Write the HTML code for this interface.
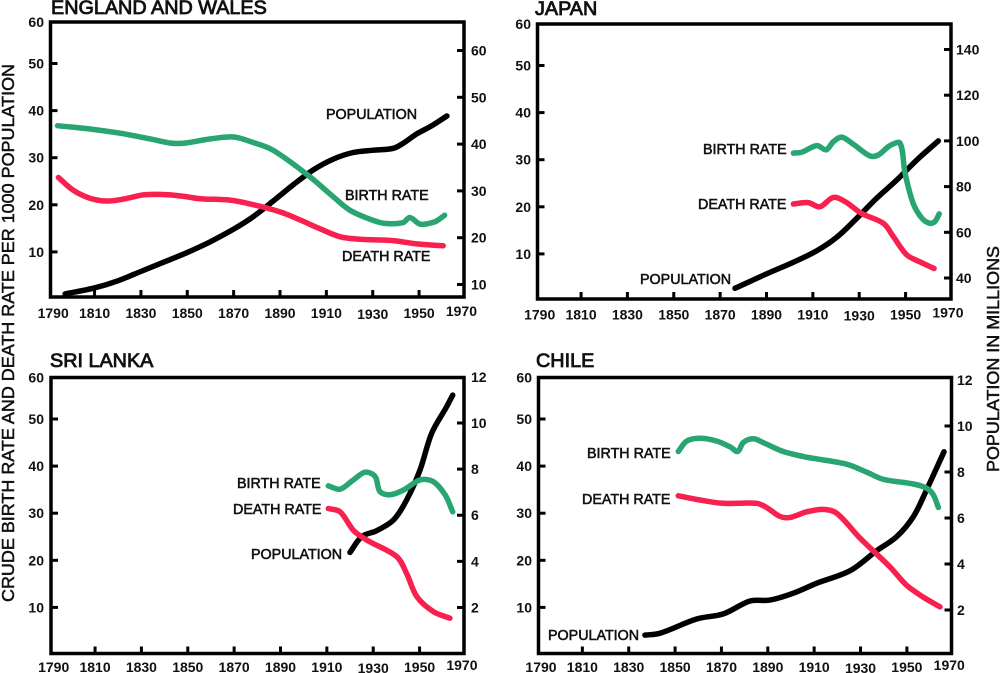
<!DOCTYPE html>
<html lang="en">
<head>
<meta charset="utf-8">
<title>Birth rate, death rate and population</title>
<style>
html,body{margin:0;padding:0;background:#fff;width:1000px;height:673px;overflow:hidden}
svg{display:block;font-family:"Liberation Sans",Arial,sans-serif}
.tick-label{font-size:14px;font-weight:bold;fill:#111}
.series-label{font-size:14.3px;fill:#111;stroke:#111;stroke-width:.55px}
.panel-title{font-size:19.8px;fill:#111;stroke:#111;stroke-width:.85px}
.axis-title{font-size:17.5px;fill:#111;stroke:#111;stroke-width:.5px}
</style>
</head>
<body>
<svg id="chart" xmlns="http://www.w3.org/2000/svg" width="1000" height="673" viewBox="0 0 1000 673">
<text class="axis-title" transform="translate(14,333) rotate(-90)" text-anchor="middle" textLength="538" lengthAdjust="spacingAndGlyphs">CRUDE BIRTH RATE AND DEATH RATE PER 1000 POPULATION</text>
<text class="axis-title" transform="translate(999,359) rotate(-90)" text-anchor="middle" textLength="226" lengthAdjust="spacingAndGlyphs">POPULATION IN MILLIONS</text>
</svg>
<script>
// ---- tick labels ----
const xTickYears = [1790, 1810, 1830, 1850, 1870, 1890, 1910, 1930, 1950, 1970];
const leftTickValues = [10, 20, 30, 40, 50, 60];
const englandRightTicks = [10, 20, 30, 40, 50, 60];
const japanRightTicks = [40, 60, 80, 100, 120, 140];
const sriLankaRightTicks = [2, 4, 6, 8, 10, 12];
const chileRightTicks = [2, 4, 6, 8, 10, 12];

// ---- England and Wales ----
const englandBirthYears = [1794, 1808, 1821, 1834, 1843, 1849, 1860, 1870, 1878, 1887, 1902, 1913, 1920, 1927.5, 1934.5, 1943, 1946, 1950.4, 1954.7, 1957.7, 1961];
const englandBirthValues = [36.8, 36.1, 35.2, 34.0, 33.1, 33.1, 34.0, 34.4, 33.3, 31.6, 26.3, 21.7, 18.9, 17.2, 16.1, 16.2, 17.3, 15.9, 16.1, 16.6, 17.8];
const englandDeathYears = [1794.4, 1800.8, 1808, 1815.2, 1822.4, 1831, 1838.3, 1846.9, 1855.5, 1868.4, 1877, 1890, 1898.6, 1907.3, 1916, 1924.5, 1938.8, 1949, 1960.4];
const englandDeathValues = [25.8, 23.1, 21.4, 20.8, 21.2, 22.1, 22.2, 21.9, 21.3, 21.0, 20.2, 18.5, 16.8, 14.9, 13.2, 12.7, 12.4, 11.7, 11.3];
const englandPopYears = [1797.3, 1809.5, 1819.6, 1831, 1841, 1849.8, 1859.8, 1869.9, 1878.5, 1887, 1895.7, 1904.4, 1913, 1921.6, 1930.3, 1938.9, 1943.2, 1949, 1954.7, 1962];
const englandPopValues = [8.0, 9.2, 10.7, 13, 15, 16.8, 19.1, 21.8, 24.5, 27.8, 31.3, 34.5, 36.8, 38.2, 38.7, 39.1, 40.2, 42.2, 43.7, 46];

// ---- Japan ----
const japanBirthYears = [1901.6, 1905.2, 1911.7, 1915.7, 1918.8, 1922.4, 1927.4, 1934.6, 1938.2, 1943.3, 1947.6, 1949.8, 1953.3, 1957, 1960.5, 1962.7, 1964.5];
const japanBirthValues = [31.4, 31.6, 33.0, 32.1, 33.8, 34.8, 33.3, 30.8, 31, 33, 33.5, 27.1, 20.7, 17.6, 16.5, 16.9, 18.5];
const japanDeathYears = [1901.6, 1908, 1913, 1918.8, 1923.9, 1931, 1940.4, 1944.7, 1950.5, 1956.2, 1962.3];
const japanDeathValues = [20.6, 20.9, 20, 22, 21.1, 18.6, 16.5, 13.7, 9.8, 8.3, 6.9];
const japanPopYears = [1876.4, 1890, 1901.6, 1911.7, 1920.3, 1928.9, 1937.5, 1946.2, 1954.8, 1964.1];
const japanPopValues = [35.5, 41.8, 46.9, 51.9, 57.8, 66.1, 74.9, 82.9, 91.6, 100];

// ---- Sri Lanka ----
const sriLankaBirthYears = [1910.6, 1915.7, 1921.4, 1926.5, 1930.8, 1932.9, 1937.2, 1943, 1950.2, 1955.9, 1961, 1964.3];
const sriLankaBirthValues = [35.8, 35.1, 37.05, 38.7, 37.8, 34.6, 33.9, 34.9, 37.05, 36.7, 33.9, 30.3];
const sriLankaDeathYears = [1910.6, 1915.7, 1921.4, 1927.2, 1940.1, 1944.4, 1948.8, 1955.9, 1963.1];
const sriLankaDeathValues = [31, 30.3, 26.4, 24.3, 20.8, 17.2, 12.3, 9.1, 7.7];
const sriLankaPopYears = [1920, 1925, 1931.5, 1938.7, 1944.4, 1950.2, 1955.2, 1961.7, 1964.3];
const sriLankaPopValues = [4.39, 5.07, 5.33, 5.79, 6.66, 7.96, 9.55, 10.71, 11.21];

// ---- Chile ----
const chileBirthYears = [1851.4, 1855, 1860.8, 1868, 1873.7, 1877, 1879.4, 1883.7, 1888, 1896.7, 1906.8, 1924, 1932.7, 1939.8, 1952.8, 1958.5, 1961.4, 1963.6];
const chileBirthValues = [43.1, 45.3, 45.9, 45.3, 44.1, 43.1, 45, 45.8, 45, 43.1, 41.9, 40.4, 38.7, 37.2, 36.2, 35.3, 33.9, 31.2];
const chileDeathYears = [1851.4, 1860.8, 1870.8, 1885.2, 1889.5, 1895.3, 1899.6, 1906.8, 1914, 1919.7, 1929.8, 1942.7, 1949.9, 1957, 1964.3];
const chileDeathValues = [33.7, 32.8, 32.1, 32.1, 31.2, 29.3, 29.1, 30.3, 30.8, 30, 24.7, 18.6, 14.7, 12.2, 10.1];
const chilePopYears = [1837, 1843.5, 1859.3, 1870.8, 1882.3, 1890.9, 1901, 1911, 1925.5, 1937, 1945.6, 1952.8, 1958.5, 1966];
const chilePopValues = [0.91, 0.99, 1.61, 1.83, 2.39, 2.43, 2.73, 3.16, 3.71, 4.58, 5.19, 6.06, 7.22, 8.88];

const panels = [
  {key: 'england', title: 'ENGLAND AND WALES', titleX: 51, titleY: 14,
   frame: [50.5, 22, 464, 297], x0: 48.2, lY0: 299, rY0: 331.3, rK: 4.68, rightTicks: englandRightTicks,
   leftEnd: 44, rightStart: 471, xLabelDrop: 21,
   birth: [englandBirthYears, englandBirthValues], death: [englandDeathYears, englandDeathValues], pop: [englandPopYears, englandPopValues],
   birthLabel: [345, 200], deathLabel: [342, 261], popLabel: [326, 119]},
  {key: 'japan', title: 'JAPAN', titleX: 535, titleY: 15,
   frame: [537.5, 24, 951, 299], x0: 534.7, lY0: 301, rY0: 369.4, rK: 2.285, rightTicks: japanRightTicks,
   leftEnd: 531, rightStart: 956, xLabelDrop: 20.5,
   birth: [japanBirthYears, japanBirthValues], death: [japanDeathYears, japanDeathValues], pop: [japanPopYears, japanPopValues],
   birthLabel: [703, 154], deathLabel: [698, 209], popLabel: [640, 284]},
  {key: 'sri-lanka', title: 'SRI LANKA', titleX: 50, titleY: 367,
   frame: [51, 377.5, 464, 653.5], x0: 48.7, lY0: 654.5, rY0: 653.6, rK: 23.06, rightTicks: sriLankaRightTicks,
   leftEnd: 44, rightStart: 471, xLabelDrop: 18.5,
   birth: [sriLankaBirthYears, sriLankaBirthValues], death: [sriLankaDeathYears, sriLankaDeathValues], pop: [sriLankaPopYears, sriLankaPopValues],
   birthLabel: [237, 488], deathLabel: [233, 514], popLabel: [251, 559]},
  {key: 'chile', title: 'CHILE', titleX: 536, titleY: 367,
   frame: [538.5, 377.5, 951.5, 653.5], x0: 536, lY0: 654.5, rY0: 656, rK: 23, rightTicks: chileRightTicks,
   leftEnd: 532, rightStart: 957, xLabelDrop: 18.5,
   birth: [chileBirthYears, chileBirthValues], death: [chileDeathYears, chileDeathValues], pop: [chilePopYears, chilePopValues],
   birthLabel: [587, 458], deathLabel: [582, 504], popLabel: [548, 640]}
];

const X_K = 2.318, L_K = 4.71;
const svg = document.getElementById('chart');
const NS = 'http://www.w3.org/2000/svg';

function make(tag, parent) {
  const node = document.createElementNS(NS, tag);
  parent.appendChild(node);
  return node;
}
function dist(a, b) { return Math.hypot(a[0] - b[0], a[1] - b[1]); }
function smoothPath(pts) {
  let d = 'M' + pts[0][0].toFixed(1) + ' ' + pts[0][1].toFixed(1);
  for (let i = 0; i < pts.length - 1; i++) {
    const p0 = pts[Math.max(0, i - 1)], p1 = pts[i], p2 = pts[i + 1], p3 = pts[Math.min(pts.length - 1, i + 2)];
    const d01 = dist(p0, p1), d12 = dist(p1, p2), d23 = dist(p2, p3);
    const a = d12 / (d01 + d12) / 3, b = d12 / (d12 + d23) / 3;
    const c1 = [p1[0] + (p2[0] - p0[0]) * a, p1[1] + (p2[1] - p0[1]) * a];
    const c2 = [p2[0] - (p3[0] - p1[0]) * b, p2[1] - (p3[1] - p1[1]) * b];
    d += 'C' + c1[0].toFixed(1) + ' ' + c1[1].toFixed(1) + ' ' + c2[0].toFixed(1) + ' ' + c2[1].toFixed(1) + ' ' + p2[0].toFixed(1) + ' ' + p2[1].toFixed(1);
  }
  return d;
}

panels.forEach(function (p) {
  const xScale = function (year) { return p.x0 + X_K * (year - 1790); };
  const leftScale = function (v) { return p.lY0 - L_K * v; };
  const rightScale = function (v) { return p.rY0 - p.rK * v; };
  const [fl, ft, fr, fb] = p.frame;

  const g = make('g', svg);
  
  

  const title = make('text', g);
  
  
  title.setAttribute('class', 'panel-title');
  title.setAttribute('x', p.titleX);
  title.setAttribute('y', p.titleY);
  title.textContent = p.title;

  const frame = make('rect', g);
  
  
  frame.setAttribute('x', fl);
  frame.setAttribute('y', ft);
  frame.setAttribute('width', fr - fl);
  frame.setAttribute('height', fb - ft);
  frame.setAttribute('fill', 'none');
  frame.setAttribute('stroke', '#000');
  frame.setAttribute('stroke-width', '3.5');

  // x axis
  xTickYears.forEach(function (year, i) {
    const first = i === 0, last = i === xTickYears.length - 1;
    if (!first && !last) {
      const t = make('line', g);
      
      
      t.setAttribute('x1', xScale(year));
      t.setAttribute('x2', xScale(year));
      t.setAttribute('y1', fb);
      t.setAttribute('y2', fb - 7);
      t.setAttribute('stroke', '#000');
      t.setAttribute('stroke-width', '3');
    }
    const l = make('text', g);
    
    
    l.setAttribute('class', 'tick-label');
    l.setAttribute('text-anchor', 'middle');
    l.setAttribute('x', xScale(year) + (first ? 5 : last ? -4 : 0));
    l.setAttribute('y', fb + p.xLabelDrop + (last ? -2 : year === 1930 ? 1 : 0));
    l.textContent = year;
  });

  // left axis
  leftTickValues.forEach(function (v) {
    if (v < 60) {
      const t = make('line', g);
      
      
      t.setAttribute('x1', fl);
      t.setAttribute('x2', fl + 7);
      t.setAttribute('y1', leftScale(v));
      t.setAttribute('y2', leftScale(v));
      t.setAttribute('stroke', '#000');
      t.setAttribute('stroke-width', '3');
    }
    const l = make('text', g);
    
    
    l.setAttribute('class', 'tick-label');
    l.setAttribute('text-anchor', 'end');
    l.setAttribute('x', p.leftEnd);
    l.setAttribute('y', (v === 60 ? ft : leftScale(v)) + 5);
    l.textContent = v;
  });

  // right axis
  p.rightTicks.forEach(function (v) {
    const y = rightScale(v);
    const inFrame = y > ft + 4;
    if (inFrame) {
      const t = make('line', g);
      
      
      t.setAttribute('x1', fr - 7);
      t.setAttribute('x2', fr);
      t.setAttribute('y1', y);
      t.setAttribute('y2', y);
      t.setAttribute('stroke', '#000');
      t.setAttribute('stroke-width', '3');
    }
    const l = make('text', g);
    
    
    l.setAttribute('class', 'tick-label');
    l.setAttribute('x', p.rightStart);
    l.setAttribute('y', y + 5);
    l.textContent = v;
  });

  // series: population under the rates
  const pop = make('path', g);
  
  
  pop.setAttribute('d', smoothPath(p.pop[0].map(function (yr, i) { return [xScale(yr), rightScale(p.pop[1][i])]; })));
  pop.setAttribute('fill', 'none');
  pop.setAttribute('stroke', '#000');
  pop.setAttribute('stroke-width', '5.5');
  pop.setAttribute('stroke-linecap', 'round');
  pop.setAttribute('stroke-linejoin', 'round');

  const birth = make('path', g);
  
  
  birth.setAttribute('d', smoothPath(p.birth[0].map(function (yr, i) { return [xScale(yr), leftScale(p.birth[1][i])]; })));
  birth.setAttribute('fill', 'none');
  birth.setAttribute('stroke', '#28a571');
  birth.setAttribute('stroke-width', '5.5');
  birth.setAttribute('stroke-linecap', 'round');
  birth.setAttribute('stroke-linejoin', 'round');

  const death = make('path', g);
  
  
  death.setAttribute('d', smoothPath(p.death[0].map(function (yr, i) { return [xScale(yr), leftScale(p.death[1][i])]; })));
  death.setAttribute('fill', 'none');
  death.setAttribute('stroke', '#f7204f');
  death.setAttribute('stroke-width', '5.5');
  death.setAttribute('stroke-linecap', 'round');
  death.setAttribute('stroke-linejoin', 'round');

  // direct labels
  const bl = make('text', g);
  
  
  bl.setAttribute('class', 'series-label');
  bl.setAttribute('x', p.birthLabel[0]);
  bl.setAttribute('y', p.birthLabel[1]);
  bl.textContent = 'BIRTH RATE';

  const dl = make('text', g);
  
  
  dl.setAttribute('class', 'series-label');
  dl.setAttribute('x', p.deathLabel[0]);
  dl.setAttribute('y', p.deathLabel[1]);
  dl.textContent = 'DEATH RATE';

  const pl = make('text', g);
  
  
  pl.setAttribute('class', 'series-label');
  pl.setAttribute('x', p.popLabel[0]);
  pl.setAttribute('y', p.popLabel[1]);
  pl.textContent = 'POPULATION';
});
</script>
</body>
</html>
